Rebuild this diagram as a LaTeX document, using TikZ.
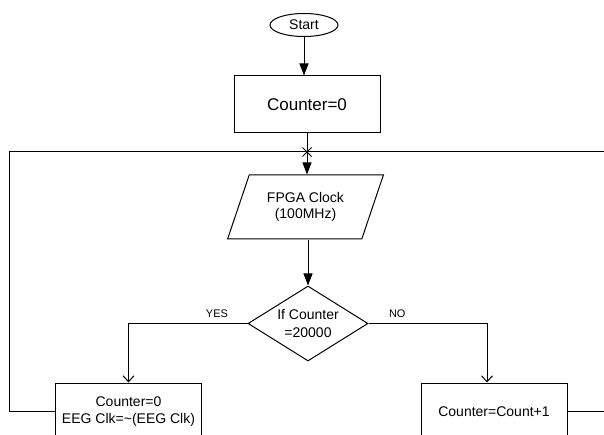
\documentclass[tikz,border=0pt]{standalone}
\usepackage{fontspec}
\setmainfont{Liberation Sans}
\usetikzlibrary{shapes.geometric, arrows.meta, positioning, calc}

\tikzset{
  flowbox/.style={draw, rectangle, minimum width=146pt, minimum height=57pt, inner sep=0pt, align=center, font=\fontsize{14}{17}\selectfont},
  startnode/.style={draw, ellipse, minimum width=68pt, minimum height=23pt, inner sep=0pt, font=\fontsize{14}{17}\selectfont},
  iobox/.style={draw, trapezium, trapezium left angle=63, trapezium right angle=117, trapezium stretches=true, minimum width=156pt, minimum height=64pt, inner sep=0pt, align=center, font=\fontsize{14}{16}\selectfont},
  decision/.style={draw, diamond, aspect=1.6, minimum width=120pt, minimum height=75pt, inner sep=0pt, align=center, font=\fontsize{14}{18}\selectfont},
  tag/.style={font=\fontsize{11}{13}\selectfont, inner sep=1pt},
  flow/.style={-{Triangle[length=12pt, width=9pt]}},
  branch/.style={-{Straight Barb[length=6pt, width=11pt]}}
}

\begin{document}
\begin{tikzpicture}[x=1pt, y=-1pt, line width=1pt]
\clip (0,0) rectangle (604,435);

% the blocks
\node[startnode] (start) at (304,25) {Start};
\node[flowbox, font=\fontsize{17}{20}\selectfont] (init) at (307,104.5) {Counter=0};
\node[iobox] (clock) at (305.5,207) {FPGA Clock\\(100MHz)};
\node[decision] (check) at (308,323.5) {If Counter\\=20000};
\node[flowbox] (reset) at (128.5,411.5) {Counter=0\\EEG Clk=\textasciitilde(EEG Clk)};
\node[flowbox] (count) at (494,411.5) {Counter=Count+1};

% loop points
\coordinate (join) at (307,152);
\coordinate (leftedge) at (9,0);
\coordinate (rightedge) at (606,0);

\draw[flow] (start) -- (start |- init.north);
\draw (init) -- (join);
\draw[flow] (join) -- (join |- clock.north);
\draw[flow] (check.north |- clock.south) -- (check);

\draw[branch] (check.west) -| (reset.north);
\draw[branch] (check.east) -| ([xshift=-7pt]count.north);
\node[tag, above left=4pt and 18pt of check.west] (yes) {YES};
\node[tag, above right=4pt and 19pt of check.east] (no) {NO};

% feedback lines
\draw (reset.west) -- (reset.west -| leftedge) |- (join);
\draw (join) -- (join -| rightedge);
\draw (count.east) -- (count.east -| rightedge);
\draw[line width=0.8pt] (join) +(-4.5,-4.5) -- +(4.5,4.5) (join) +(-4.5,4.5) -- +(4.5,-4.5);

\end{tikzpicture}
\end{document}
